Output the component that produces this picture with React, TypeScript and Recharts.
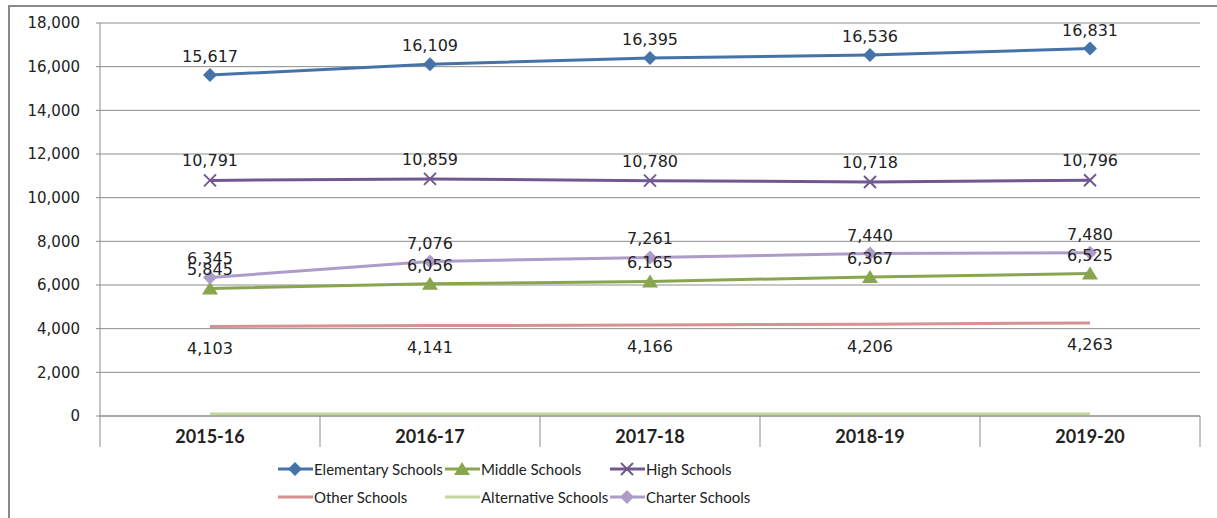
import { LineChart, Line, XAxis, YAxis, CartesianGrid, LabelList } from 'recharts';

const years = ['2015-16', '2016-17', '2017-18', '2018-19', '2019-20'];
const elementary = [15617, 16109, 16395, 16536, 16831];
const middle = [5845, 6056, 6165, 6367, 6525];
const high = [10791, 10859, 10780, 10718, 10796];
const other = [4103, 4141, 4166, 4206, 4263];
const alternative = [90, 90, 90, 90, 90];
const charter = [6345, 7076, 7261, 7440, 7480];
const yTicks = [0, 2000, 4000, 6000, 8000, 10000, 12000, 14000, 16000, 18000];

const data = years.map((year, i) => ({
	year,
	elementary: elementary[i],
	middle: middle[i],
	high: high[i],
	other: other[i],
	alternative: alternative[i],
	charter: charter[i],
}));

const C = {
	elementary: '#4572A7',
	middle: '#89A54E',
	high: '#71588F',
	other: '#D69090',
	alternative: '#C3D69B',
	charter: '#AC9DC8',
};

const CHART_W = 1217;
const CHART_H = 518;
const X_H = 31;
const MARGIN = { top: 23, right: 17, left: 0, bottom: 102 - X_H };
const Y_W = 100;
const HALF_BAND = (CHART_W - MARGIN.right - Y_W) / years.length / 2;

const fmt = (v: number) => v.toLocaleString('en-US');

const Diamond = ({ cx, cy, fill }: any) =>
	cx == null ? null : (
		<polygon points={`${cx},${cy - 7} ${cx + 7},${cy} ${cx},${cy + 7} ${cx - 7},${cy}`} fill={fill} />
	);
const Triangle = ({ cx, cy, fill }: any) =>
	cx == null ? null : (
		<polygon points={`${cx},${cy - 7} ${cx + 8},${cy + 6} ${cx - 8},${cy + 6}`} fill={fill} />
	);
const Cross = ({ cx, cy, stroke }: any) =>
	cx == null ? null : (
		<g stroke={stroke} strokeWidth={2}>
			<line x1={cx - 6} y1={cy - 6} x2={cx + 6} y2={cy + 6} />
			<line x1={cx - 6} y1={cy + 6} x2={cx + 6} y2={cy - 6} />
		</g>
	);

const XTick = ({ x, y, payload, index }: any) => (
	<g>
		<line x1={x - HALF_BAND} y1={y} x2={x - HALF_BAND} y2={y + 31} stroke='#8c8c8c' />
		{index === years.length - 1 && (
			<line x1={x + HALF_BAND} y1={y} x2={x + HALF_BAND} y2={y + 31} stroke='#8c8c8c' />
		)}
		<text x={x} y={y + 27} textAnchor='middle' fontFamily='Lato' fontWeight='bold' fontSize={18} fill='#222'>
			{payload.value}
		</text>
	</g>
);

const legendItems = [
	{ name: 'Elementary Schools', color: C.elementary, mark: 'diamond', x: 278, row: 0 },
	{ name: 'Middle Schools', color: C.middle, mark: 'triangle', x: 445, row: 0 },
	{ name: 'High Schools', color: C.high, mark: 'cross', x: 610, row: 0 },
	{ name: 'Other Schools', color: C.other, mark: 'none', x: 278, row: 1 },
	{ name: 'Alternative Schools', color: C.alternative, mark: 'none', x: 445, row: 1 },
	{ name: 'Charter Schools', color: C.charter, mark: 'diamond', x: 610, row: 1 },
];

const LegendBox = () => (
	<div style={{ position: 'absolute', left: 0, top: 459, width: CHART_W, height: 60 }}>
		{legendItems.map((it) => (
			<div
				key={it.name}
				style={{
					position: 'absolute',
					left: it.x,
					top: it.row * 28,
					height: 20,
					display: 'flex',
					alignItems: 'center',
					fontFamily: 'Lato',
					fontSize: 15,
					color: '#222',
					whiteSpace: 'nowrap',
				}}
			>
				<svg width={35} height={20}>
					<line x1={0} y1={10} x2={35} y2={10} stroke={it.color} strokeWidth={3} />
					{it.mark === 'diamond' && <Diamond cx={17} cy={10} fill={it.color} />}
					{it.mark === 'triangle' && <Triangle cx={17} cy={10} fill={it.color} />}
					{it.mark === 'cross' && <Cross cx={17} cy={10} stroke={it.color} />}
				</svg>
				<span style={{ marginLeft: 1 }}>{it.name}</span>
			</div>
		))}
	</div>
);

const labelStyle = { fontFamily: 'DejaVu Sans', fontSize: 16, fill: '#222' };

const App = () => {
	return (
		<div style={{ position: 'absolute', left: 0, top: 0, width: CHART_W, height: CHART_H, overflow: 'hidden', background: '#fff' }}>
			<div
				style={{
					position: 'absolute',
					left: 8,
					top: 5,
					width: CHART_W - 8,
					height: CHART_H - 5,
					borderTop: '2px solid #8a8a8a',
					borderLeft: '2px solid #8a8a8a',
				}}
			/>
			<div style={{ position: 'absolute', left: 0, top: 0 }}>
				<LineChart width={CHART_W} height={CHART_H} data={data} margin={MARGIN}>
					<CartesianGrid vertical={false} stroke='#8c8c8c' />
					<XAxis
						dataKey='year'
						height={X_H}
						padding={{ left: HALF_BAND, right: HALF_BAND }}
						tick={<XTick />}
						tickLine={false}
						tickSize={0}
						tickMargin={0}
						stroke='#8c8c8c'
						interval={0}
					/>
					<YAxis
						width={Y_W}
						domain={[0, 18000]}
						ticks={yTicks}
						tickFormatter={fmt}
						tickSize={4}
						tickMargin={16}
						stroke='#8c8c8c'
						tick={{ fontFamily: 'DejaVu Sans', fontSize: 15, fill: '#222' }}
					/>
					<Line dataKey='alternative' name='Alternative Schools' stroke={C.alternative} strokeWidth={3} dot={false} isAnimationActive={false} />
					<Line dataKey='other' name='Other Schools' stroke={C.other} strokeWidth={3} dot={false} isAnimationActive={false}>
						<LabelList dataKey='other' position='bottom' offset={16} formatter={fmt} style={labelStyle} />
					</Line>
					<Line dataKey='middle' name='Middle Schools' stroke={C.middle} strokeWidth={3} dot={<Triangle fill={C.middle} />} isAnimationActive={false}>
						<LabelList dataKey='middle' position='top' offset={13} formatter={fmt} style={labelStyle} />
					</Line>
					<Line dataKey='charter' name='Charter Schools' stroke={C.charter} strokeWidth={3} dot={<Diamond fill={C.charter} />} isAnimationActive={false}>
						<LabelList dataKey='charter' position='top' offset={13} formatter={fmt} style={labelStyle} />
					</Line>
					<Line dataKey='high' name='High Schools' stroke={C.high} strokeWidth={3} dot={<Cross stroke={C.high} />} isAnimationActive={false}>
						<LabelList dataKey='high' position='top' offset={14} formatter={fmt} style={labelStyle} />
					</Line>
					<Line dataKey='elementary' name='Elementary Schools' stroke={C.elementary} strokeWidth={3} dot={<Diamond fill={C.elementary} />} isAnimationActive={false}>
						<LabelList dataKey='elementary' position='top' offset={13} formatter={fmt} style={labelStyle} />
					</Line>
				</LineChart>
			</div>
			<LegendBox />
		</div>
	);
};

export default App;
